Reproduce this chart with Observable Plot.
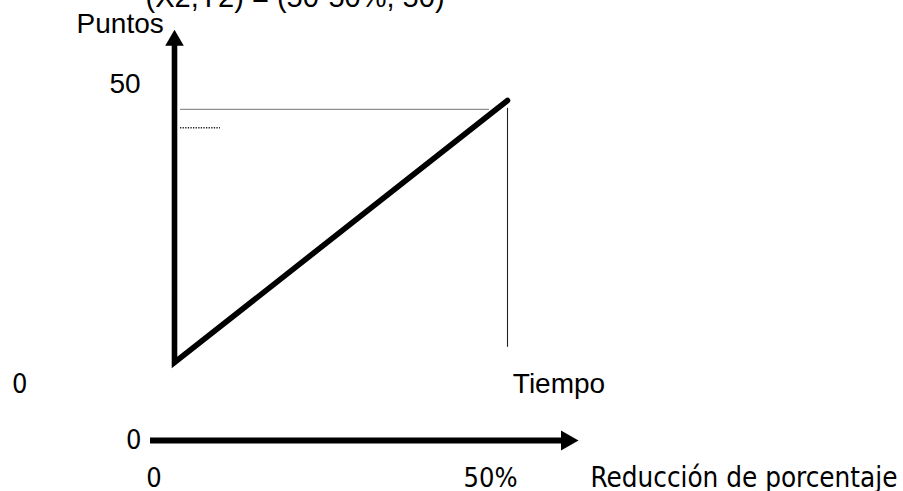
<!DOCTYPE html>
<html>
<head>
<meta charset="utf-8">
<script src="https://cdn.jsdelivr.net/npm/d3@7"></script>
<script src="https://cdn.jsdelivr.net/npm/@observablehq/plot@0.6"></script>
<style>
  html, body { margin: 0; padding: 0; background: #fff; }
  #chart svg { display: block; }
</style>
</head>
<body>
<div id="chart"></div>
<script>
// ---- Main panel data (x: reduction %, y: Puntos) ----
const lineReduction = [0, 50];      // x of the thick line
const linePuntos = [0, 50];         // y of the thick line
const axisTopPuntos = 63.5;         // top of the Puntos arrow
const refPuntos = 48.3;             // thin grey horizontal guide
const refReduction = [0.9, 47.3];
const dropReduction = 50;           // thin vertical guide
const dropPuntos = [2.9, 48.5];
const dottedPuntos = 44.8;          // short dotted mark
const dottedReduction = [0.9, 6.9];

const arialText = ["(X2,Y2) = (50-50%, 50)", "Puntos", "50", "Tiempo"];
const arialX = [-4.35, -14.7, -9.76, 50.8];
const arialY = [67.84, 62.8, 51.5, -5.73];
const arialSize = [29, 28, 28, 28];

const zeroText = ["0"];
const zeroX = [-24.4];
const zeroY = [-5.9];

// ---- Bottom axis data (Reducción de porcentaje) ----
const bottomTicks = [0, 50];
const bottomTickText = ["0", "50%"];
const bottomAxisExtent = [-0.52, 61];
const bottomArrowTip = 63.07;
const bottomAxisName = "Reducción de porcentaje";
const bottomAxisNameX = 64.85;

const arialFont = "'Liberation Sans', Arial, sans-serif";
const tahomaFont = "'DejaVu Sans Condensed', 'DejaVu Sans', sans-serif";

// build tables
const path = [{x: 0, y: axisTopPuntos - 2}]
  .concat(lineReduction.map((x, i) => ({x, y: linePuntos[i]})));
const arialLabels = arialText.map((t, i) => ({t, x: arialX[i], y: arialY[i], s: arialSize[i]}));
const zeroLabels = zeroText.map((t, i) => ({t, x: zeroX[i], y: zeroY[i]}));

const main = Plot.plot({
  width: 903,
  height: 410,
  margin: 0,
  x: {domain: [0, 50], range: [174, 507], axis: null},
  y: {domain: [0, 50], range: [362, 100], axis: null},
  marks: [
    Plot.ruleY([refPuntos], {x1: refReduction[0], x2: refReduction[1], stroke: "#8f8f8f", strokeWidth: 1.3}),
    Plot.ruleX([dropReduction], {y1: dropPuntos[0], y2: dropPuntos[1], stroke: "#222", strokeWidth: 1.1}),
    Plot.ruleY([dottedPuntos], {x1: dottedReduction[0], x2: dottedReduction[1], stroke: "#222", strokeWidth: 1.6, strokeDasharray: "1.3,1.3"}),
    Plot.line(path, {x: "x", y: "y", stroke: "#000", strokeWidth: 5.6, strokeLinejoin: "miter", strokeMiterlimit: 10}),
    Plot.dot([{x: 0, y: axisTopPuntos}], {x: "x", y: "y", symbol: "triangle", r: 6.9, fill: "#000", dy: 10.7}),
    ...arialLabels.map(d => Plot.text([d], {x: "x", y: "y", text: "t", textAnchor: "start", lineAnchor: "bottom",
      fontSize: d.s, fontFamily: arialFont, fill: "#000"})),
    Plot.text(zeroLabels, {x: "x", y: "y", text: "t", textAnchor: "start", lineAnchor: "bottom",
      fontSize: 27, fontFamily: tahomaFont, fill: "#000"})
  ]
});

const bottom = Plot.plot({
  width: 903,
  height: 81,
  margin: 0,
  x: {domain: [0, 50], range: [153.5, 490], axis: null},
  y: {domain: [0, 1], range: [30, 76.5], axis: null},
  marks: [
    Plot.ruleY([0], {x1: bottomAxisExtent[0], x2: bottomAxisExtent[1], stroke: "#000", strokeWidth: 6}),
    Plot.dot([{x: bottomArrowTip, y: 0}], {x: "x", y: "y", symbol: "triangle", r: 7.5, rotate: 90, fill: "#000", dx: -11.6}),
    Plot.text([{x: bottomAxisExtent[0], t: "0"}], {x: "x", y: () => 0, text: "t", textAnchor: "end", lineAnchor: "middle",
      dx: -9, fontSize: 27, fontFamily: tahomaFont, fill: "#000"}),
    Plot.text(bottomTicks.map((x, i) => ({x, t: bottomTickText[i]})), {x: "x", y: () => 1, text: "t", textAnchor: "middle",
      lineAnchor: "bottom", fontSize: 27, fontFamily: tahomaFont, fill: "#000"}),
    Plot.text([{x: bottomAxisNameX, t: bottomAxisName}], {x: "x", y: () => 1, text: "t", textAnchor: "start",
      lineAnchor: "bottom", fontSize: 27.6, fontFamily: tahomaFont, fill: "#000"})
  ]
});

const el = document.getElementById("chart");
el.appendChild(main);
el.appendChild(bottom);
</script>
</body>
</html>
